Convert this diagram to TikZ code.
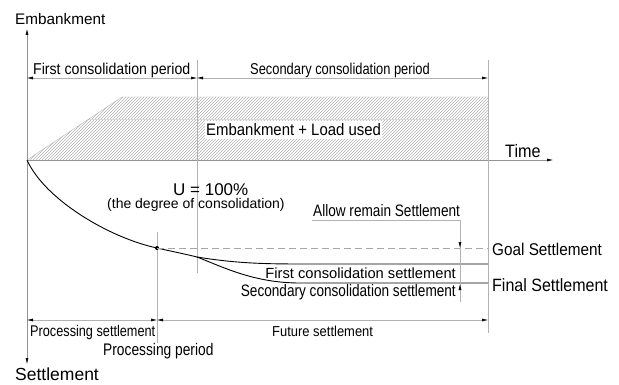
\documentclass[tikz,border=0pt]{standalone}
\usepackage{fontspec}
\setmainfont{Liberation Sans}
\newfontfamily\semifont[FakeStretch=0.9]{Liberation Sans}
\newfontfamily\narrowfont[FakeStretch=0.82]{Liberation Sans}
\usetikzlibrary{arrows.meta,patterns}
\newcommand\txtsize[1]{\fontsize{#1}{#1}\selectfont}
\tikzset{
	lbl/.style={inner sep=0pt,anchor=base west,text=black},
	axisline/.style={draw=gray!85,line width=0.5pt},
	extline/.style={draw=gray!60,line width=0.5pt},
	dimline/.style={draw=gray!60,line width=0.5pt,<->},
	settle/.style={draw=black,line width=0.9pt},
}
\begin{document}
\begin{tikzpicture}[x=1pt,y=-1pt,>={Latex[length=6pt,width=3pt,color=black]}]
	\useasboundingbox (0,0) rectangle (619,385);
	% key points
	\coordinate (O) at (27,160);
	\coordinate (ytop) at (27,29);
	\coordinate (ybot) at (27,364);
	\coordinate (xend) at (553,160);
	\coordinate (dot) at (157,248);
	\coordinate (junc) at (197,257);
	\coordinate (firstend) at (488,264);
	\coordinate (secend) at (488,283);
	% embankment + load block
	\fill[pattern=north east lines,pattern color=gray!60] (O) -- (122,97) -- (488,97) -- (488,160) -- cycle;
	\draw[gray!55,line width=0.4pt] (O) -- (122,97) -- (488,97);
	\draw[gray!30,line width=0.4pt] (89,119) -- (488,119);
	\node[lbl,fill=white,inner xsep=1pt,inner ysep=3pt,font=\semifont\txtsize{16.6}] (load) at (205,136) {Embankment + Load used};
	% axes
	\draw[axisline,->] (O) -- (ytop);
	\draw[axisline,->] (O) -- (ybot);
	\draw[axisline,->] (O) -- (xend);
	\node[lbl,font=\txtsize{15.3}] (emb) at (15,25) {Embankment};
	\node[lbl,font=\txtsize{17.5}] (settl) at (15,380) {Settlement};
	\node[lbl,font=\semifont\txtsize{18}] (time) at (505,158) {Time};
	% extension lines
	\coordinate (e1a) at (197,60);  \coordinate (e1b) at (197,273);
	\coordinate (e2a) at (488,60);  \coordinate (e2b) at (488,333);
	\coordinate (e3a) at (157,232); \coordinate (e3b) at (157,343);
	\draw[extline] (e1a) -- (e1b);
	\draw[extline] (e2a) -- (e2b);
	\draw[extline] (e3a) -- (e3b);
	% periods on top
	\coordinate (t0) at (27,78); \coordinate (t1) at (197,78); \coordinate (t2) at (488,78);
	\draw[dimline] (t0) -- (t1);
	\draw[dimline] (t1) -- (t2);
	\node[lbl,font=\semifont\txtsize{15.7}] (fcp) at (33,75) {First consolidation period};
	\node[lbl,font=\narrowfont\txtsize{15.7}] (scp) at (250,75) {Secondary consolidation period};
	% settlement curve
	\draw[settle] (O) .. controls (45,200) and (110,238) .. (dot) .. controls (170,251) and (185,254) .. (junc);
	\draw[settle] (junc) .. controls (240,264) and (270,264) .. (310,264) -- (firstend);
	\draw[settle] (junc) .. controls (225,268) and (255,283) .. (300,283) -- (secend);
	\fill (dot) circle (2);
	\draw[gray!70,line width=0.5pt,dash pattern=on 7pt off 4pt] (dot) -- (488,248);
	\node[lbl,font=\txtsize{17}] (u) at (173,196) {U = 100\%};
	\node[lbl,font=\txtsize{14}] (deg) at (107,209) {(the degree of consolidation)};
	% remaining settlement
	\coordinate (a0) at (312,220); \coordinate (a1) at (460,220); \coordinate (a2) at (460,302);
	\draw[extline] (a0) -- (a1) -- (a2);
	\coordinate (g0) at (460,238); \coordinate (g1) at (460,248);
	\coordinate (f0) at (460,294); \coordinate (f1) at (460,284);
	\draw[extline,->] (g0) -- (g1);
	\draw[extline,->] (f0) -- (f1);
	\node[lbl,font=\narrowfont\txtsize{16.6}] (allow) at (313,216) {Allow remain Settlement};
	\node[lbl,font=\semifont\txtsize{17}] (goal) at (492,255) {Goal Settlement};
	\node[lbl,font=\semifont\txtsize{17.8}] (final) at (492,291) {Final Settlement};
	\node[lbl,anchor=base east,font=\txtsize{14.7}] (fcs) at (456,278) {First consolidation settlement};
	\node[lbl,anchor=base east,font=\narrowfont\txtsize{16.6}] (scs) at (456,296.5) {Secondary consolidation settlement};
	% processing / future
	\coordinate (b0) at (27,320); \coordinate (b1) at (157,320); \coordinate (b2) at (488,320);
	\draw[dimline] (b0) -- (b1);
	\draw[dimline] (b1) -- (b2);
	\node[lbl,font=\narrowfont\txtsize{15.5}] (ps) at (30,336.5) {Processing settlement};
	\node[lbl,font=\narrowfont\txtsize{16.8}] (pp) at (103,355) {Processing period};
	\node[lbl,font=\semifont\txtsize{14.4}] (fs) at (272,336.5) {Future settlement};
\end{tikzpicture}
\end{document}
